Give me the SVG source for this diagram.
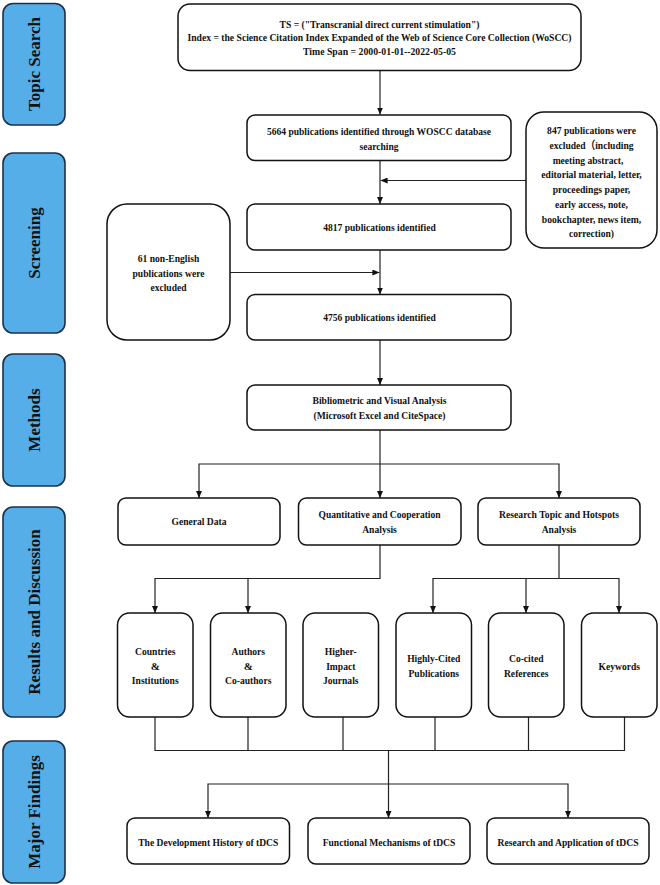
<svg xmlns="http://www.w3.org/2000/svg" width="660" height="885" viewBox="0 0 660 885">
<defs>
<style>
.side{fill:#56AEE8;stroke:#1C3148;stroke-width:1.6}
.sl{font-family:"Liberation Serif","Times New Roman",serif;font-weight:bold;font-size:17px;text-anchor:middle;fill:#111}
.box{fill:#fff;stroke:#111;stroke-width:1.5}
.t{font-family:"Liberation Serif","Times New Roman","Noto Sans CJK SC",serif;font-weight:bold;font-size:11px;text-anchor:middle;fill:#111}
.c{fill:none;stroke:#222;stroke-width:1.2}
</style>
<marker id="ah" markerUnits="userSpaceOnUse" markerWidth="7" markerHeight="6" refX="7" refY="3" orient="auto">
<path d="M0,0 L7,3 L0,6 z" fill="#111"/>
</marker>
</defs>
<rect width="660" height="885" fill="#fff"/>

<g id="stage-topic-search"><rect class="side" x="3" y="3.5" width="62" height="121.5" rx="10"/><text class="sl" transform="translate(40,64) rotate(-90)">Topic Search</text></g>
<g id="stage-screening"><rect class="side" x="3" y="153" width="62" height="180" rx="10"/><text class="sl" transform="translate(40,243) rotate(-90)">Screening</text></g>
<g id="stage-methods"><rect class="side" x="3" y="354" width="62" height="132" rx="10"/><text class="sl" transform="translate(40,420) rotate(-90)">Methods</text></g>
<g id="stage-results"><rect class="side" x="3" y="507" width="62" height="210" rx="10"/><text class="sl" transform="translate(40,612) rotate(-90)">Results and Discussion</text></g>
<g id="stage-findings"><rect class="side" x="3" y="741" width="62" height="142" rx="10"/><text class="sl" transform="translate(40,812) rotate(-90)">Major Findings</text></g>

<g id="connectors">
<path class="c" d="M380,70.5 V114.5" marker-end="url(#ah)"/>
<path class="c" d="M380,160.5 V204" marker-end="url(#ah)"/>
<path class="c" d="M526,180.5 H380.6" marker-end="url(#ah)"/>
<path class="c" d="M380,250 V294.5" marker-end="url(#ah)"/>
<path class="c" d="M230,272.5 H379.4" marker-end="url(#ah)"/>
<path class="c" d="M380,340 V385" marker-end="url(#ah)"/>
<path class="c" d="M380,430 V498" marker-end="url(#ah)"/>
<path class="c" d="M380,464 H199 V498" marker-end="url(#ah)"/>
<path class="c" d="M380,464 H559 V498" marker-end="url(#ah)"/>
<path class="c" d="M380,545 V578.5 H155 V613" marker-end="url(#ah)"/>
<path class="c" d="M248,578.5 V613" marker-end="url(#ah)"/>
<path class="c" d="M559,545 V578.5 H433 V613" marker-end="url(#ah)"/>
<path class="c" d="M559,578.5 H619 V613" marker-end="url(#ah)"/>
<path class="c" d="M526,578.5 V613" marker-end="url(#ah)"/>
<path class="c" d="M155,717 V750.5 H624.5 V717"/>
<path class="c" d="M248,717 V750.5 M343,717 V750.5 M435,717 V750.5 M528.5,717 V750.5"/>
<path class="c" d="M388.5,750.5 V818" marker-end="url(#ah)"/>
<path class="c" d="M388.5,784 H208 V818" marker-end="url(#ah)"/>
<path class="c" d="M388.5,784 H568 V818" marker-end="url(#ah)"/>
</g>

<g id="node-topic">
<rect class="box" x="178" y="4" width="403" height="66.5" rx="12"/>
<text class="t" x="379.5" y="27.5" textLength="200" lengthAdjust="spacingAndGlyphs">TS = ("Transcranial direct current stimulation")</text>
<text class="t" x="379.5" y="41" textLength="384" lengthAdjust="spacingAndGlyphs">Index = the Science Citation Index Expanded of the Web of Science Core Collection (WoSCC)</text>
<text class="t" x="379.5" y="54.5" textLength="153" lengthAdjust="spacingAndGlyphs">Time Span = 2000-01-01--2022-05-05</text>
</g>
<g id="node-5664">
<rect class="box" x="247" y="115" width="264" height="45.5" rx="8"/>
<text class="t" x="379" y="135" textLength="224" lengthAdjust="spacingAndGlyphs">5664 publications identified through WOSCC database</text>
<text class="t" x="379" y="149.5" textLength="39" lengthAdjust="spacingAndGlyphs">searching</text>
</g>
<g id="node-847">
<rect class="box" x="526" y="112" width="131" height="136" rx="18"/>
<text class="t" x="591.5" y="134" textLength="88.8" lengthAdjust="spacingAndGlyphs">847 publications were</text>
<text class="t" x="591.5" y="148.75" textLength="84" lengthAdjust="spacingAndGlyphs">excluded（including</text>
<text class="t" x="588" y="163.5" textLength="70.7" lengthAdjust="spacingAndGlyphs">meeting abstract,</text>
<text class="t" x="591.5" y="178.25" textLength="100.5" lengthAdjust="spacingAndGlyphs">editorial material, letter,</text>
<text class="t" x="591.5" y="193" textLength="77.6" lengthAdjust="spacingAndGlyphs">proceedings paper,</text>
<text class="t" x="591.5" y="207.75" textLength="72.8" lengthAdjust="spacingAndGlyphs">early access, note,</text>
<text class="t" x="591.5" y="222.5" textLength="99.4" lengthAdjust="spacingAndGlyphs">bookchapter, news item,</text>
<text class="t" x="591.5" y="237.25" textLength="45" lengthAdjust="spacingAndGlyphs">correction)</text>
</g>
<g id="node-4817">
<rect class="box" x="247" y="204" width="264" height="46" rx="8"/>
<text class="t" x="379.5" y="231" textLength="112.5" lengthAdjust="spacingAndGlyphs">4817 publications identified</text>
</g>
<g id="node-61">
<rect class="box" x="107" y="204" width="123" height="136" rx="20"/>
<text class="t" x="168.5" y="262" textLength="61.5" lengthAdjust="spacingAndGlyphs">61 non-English</text>
<text class="t" x="168.5" y="276.5" textLength="72" lengthAdjust="spacingAndGlyphs">publications were</text>
<text class="t" x="168.5" y="291" textLength="36" lengthAdjust="spacingAndGlyphs">excluded</text>
</g>
<g id="node-4756">
<rect class="box" x="247" y="294.5" width="264" height="45.5" rx="8"/>
<text class="t" x="379.5" y="321" textLength="112.5" lengthAdjust="spacingAndGlyphs">4756 publications identified</text>
</g>
<g id="node-bibliometric">
<rect class="box" x="247" y="385" width="264" height="45" rx="8"/>
<text class="t" x="379.5" y="404" textLength="134" lengthAdjust="spacingAndGlyphs">Bibliometric and Visual Analysis</text>
<text class="t" x="379.5" y="419" textLength="132" lengthAdjust="spacingAndGlyphs">(Microsoft Excel and CiteSpace)</text>
</g>
<g id="node-general">
<rect class="box" x="118" y="498" width="162" height="47" rx="8"/>
<text class="t" x="199" y="525" textLength="55" lengthAdjust="spacingAndGlyphs">General Data</text>
</g>
<g id="node-quantitative">
<rect class="box" x="298.5" y="498" width="162.5" height="47" rx="8"/>
<text class="t" x="379.5" y="518" textLength="122" lengthAdjust="spacingAndGlyphs">Quantitative and Cooperation</text>
<text class="t" x="379.5" y="533" textLength="34.6" lengthAdjust="spacingAndGlyphs">Analysis</text>
</g>
<g id="node-research-topic">
<rect class="box" x="478" y="498" width="162" height="47" rx="8"/>
<text class="t" x="559" y="518" textLength="120" lengthAdjust="spacingAndGlyphs">Research Topic and Hotspots</text>
<text class="t" x="559" y="533" textLength="34.6" lengthAdjust="spacingAndGlyphs">Analysis</text>
</g>
<g id="node-countries">
<rect class="box" x="117.5" y="613" width="75.5" height="104" rx="12"/>
<text class="t" x="155.25" y="654.5" textLength="40.4" lengthAdjust="spacingAndGlyphs">Countries</text>
<text class="t" x="155.25" y="669.5">&amp;</text>
<text class="t" x="155.25" y="684" textLength="46.8" lengthAdjust="spacingAndGlyphs">Institutions</text>
</g>
<g id="node-authors">
<rect class="box" x="210.5" y="613" width="75.5" height="104" rx="12"/>
<text class="t" x="248.25" y="654.5" textLength="33.5" lengthAdjust="spacingAndGlyphs">Authors</text>
<text class="t" x="248.25" y="669.5">&amp;</text>
<text class="t" x="248.25" y="684" textLength="46.3" lengthAdjust="spacingAndGlyphs">Co-authors</text>
</g>
<g id="node-journals">
<rect class="box" x="303" y="613" width="75.5" height="104" rx="12"/>
<text class="t" x="340.75" y="654.5" textLength="31.9" lengthAdjust="spacingAndGlyphs">Higher-</text>
<text class="t" x="340.75" y="669.5" textLength="29.2" lengthAdjust="spacingAndGlyphs">Impact</text>
<text class="t" x="340.75" y="684" textLength="35.6" lengthAdjust="spacingAndGlyphs">Journals</text>
</g>
<g id="node-highly-cited">
<rect class="box" x="396" y="613" width="75.5" height="104" rx="12"/>
<text class="t" x="433.75" y="662" textLength="53.2" lengthAdjust="spacingAndGlyphs">Highly-Cited</text>
<text class="t" x="433.75" y="676.5" textLength="50.5" lengthAdjust="spacingAndGlyphs">Publications</text>
</g>
<g id="node-co-cited">
<rect class="box" x="488.5" y="613" width="75.5" height="104" rx="12"/>
<text class="t" x="526.25" y="662" textLength="34.5" lengthAdjust="spacingAndGlyphs">Co-cited</text>
<text class="t" x="526.25" y="676.5" textLength="44.6" lengthAdjust="spacingAndGlyphs">References</text>
</g>
<g id="node-keywords">
<rect class="box" x="581.5" y="613" width="75.5" height="104" rx="12"/>
<text class="t" x="619.25" y="669.5" textLength="41.5" lengthAdjust="spacingAndGlyphs">Keywords</text>
</g>
<g id="node-history">
<rect class="box" x="127" y="818" width="162.5" height="46" rx="8"/>
<text class="t" x="208.25" y="846" textLength="140" lengthAdjust="spacingAndGlyphs">The Development History of tDCS</text>
</g>
<g id="node-mechanisms">
<rect class="box" x="308" y="818" width="162" height="46" rx="8"/>
<text class="t" x="389" y="846" textLength="132.7" lengthAdjust="spacingAndGlyphs">Functional Mechanisms of tDCS</text>
</g>
<g id="node-application">
<rect class="box" x="487" y="818" width="162" height="46" rx="8"/>
<text class="t" x="568" y="846" textLength="141" lengthAdjust="spacingAndGlyphs">Research and Application of tDCS</text>
</g>
</svg>
